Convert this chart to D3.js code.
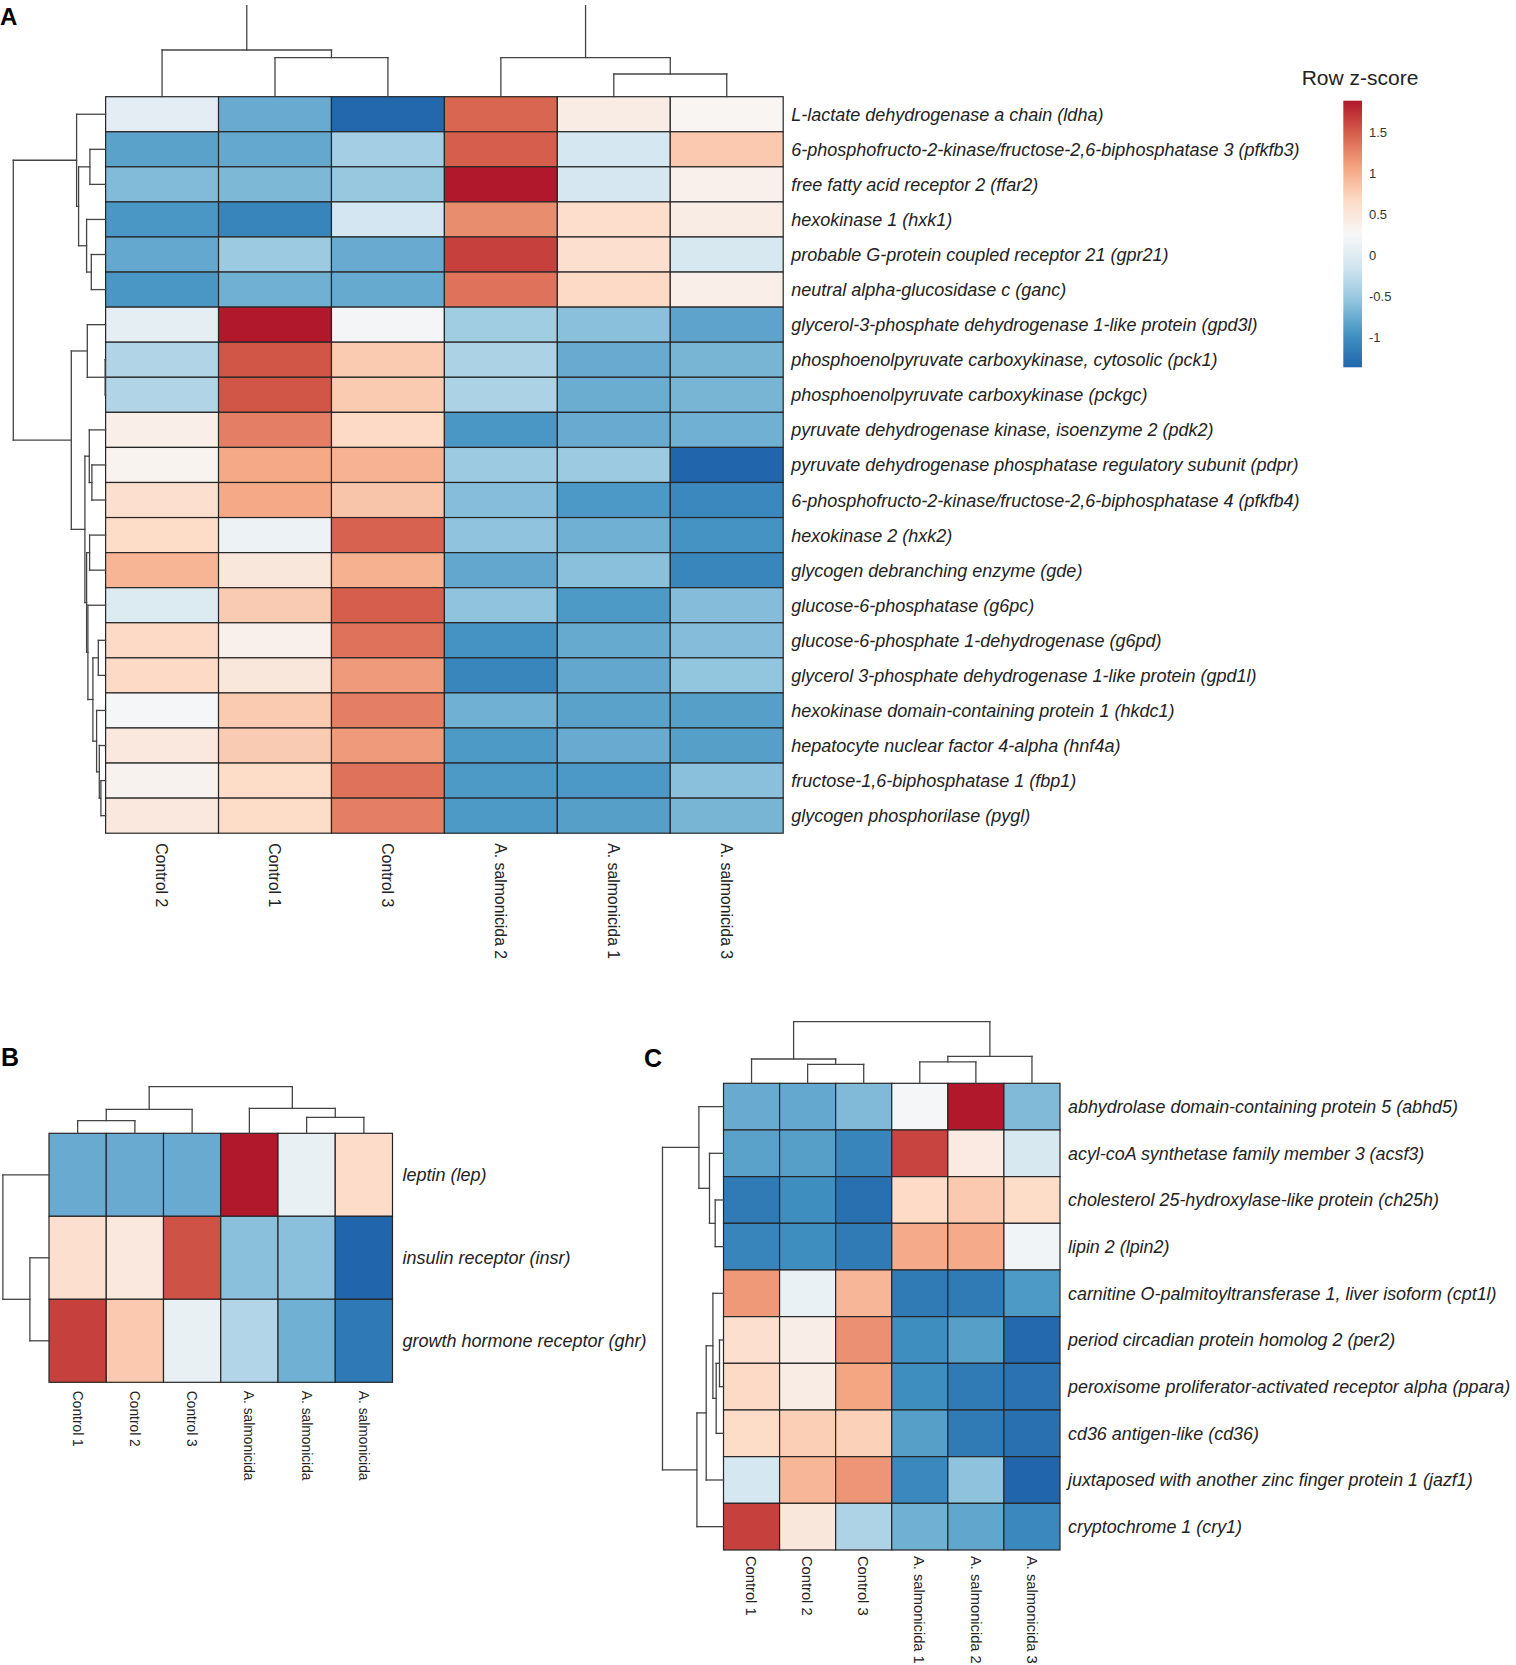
<!DOCTYPE html>
<html>
<head>
<meta charset="utf-8">
<title>Glucose metabolism heatmaps</title>
<script src="https://cdn.jsdelivr.net/npm/d3@7"></script>
<style>
  body { margin: 0; background: #fff; }
  svg { display: block; font-family: "Liberation Sans", Arial, sans-serif; }
  .row-label { font-style: italic; fill: #222; }
  .col-label { fill: #222; }
  .panel-letter { font-weight: bold; fill: #000; }
</style>
</head>
<body>
<svg id="figure" width="1516" height="1665"></svg>
<script>
// ============================================================================
// data
// ============================================================================

// panel A
const colsA = ["Control 2", "Control 1", "Control 3", "A. salmonicida 2", "A. salmonicida 1", "A. salmonicida 3"];
const rowsA = [
    "L-lactate dehydrogenase a chain (ldha)",
    "6-phosphofructo-2-kinase/fructose-2,6-biphosphatase 3 (pfkfb3)",
    "free fatty acid receptor 2 (ffar2)",
    "hexokinase 1 (hxk1)",
    "probable G-protein coupled receptor 21 (gpr21)",
    "neutral alpha-glucosidase c (ganc)",
    "glycerol-3-phosphate dehydrogenase 1-like protein (gpd3l)",
    "phosphoenolpyruvate carboxykinase, cytosolic (pck1)",
    "phosphoenolpyruvate carboxykinase (pckgc)",
    "pyruvate dehydrogenase kinase, isoenzyme 2 (pdk2)",
    "pyruvate dehydrogenase phosphatase regulatory subunit (pdpr)",
    "6-phosphofructo-2-kinase/fructose-2,6-biphosphatase 4 (pfkfb4)",
    "hexokinase 2 (hxk2)",
    "glycogen debranching enzyme (gde)",
    "glucose-6-phosphatase (g6pc)",
    "glucose-6-phosphate 1-dehydrogenase (g6pd)",
    "glycerol 3-phosphate dehydrogenase 1-like protein (gpd1l)",
    "hexokinase domain-containing protein 1 (hkdc1)",
    "hepatocyte nuclear factor 4-alpha (hnf4a)",
    "fructose-1,6-biphosphatase 1 (fbp1)",
    "glycogen phosphorilase (pygl)"
];
const valuesA = [
    [ 0.05, -0.76, -1.34,  1.45,  0.42,  0.30],
    [-0.83, -0.78, -0.43,  1.49, -0.10,  0.81],
    [-0.63, -0.65, -0.51,  1.89, -0.09,  0.37],
    [-0.92, -1.08, -0.11,  1.22,  0.64,  0.43],
    [-0.78, -0.48, -0.76,  1.66,  0.61, -0.08],
    [-0.92, -0.72, -0.77,  1.38,  0.68,  0.39],
    [ 0.06,  1.89,  0.23, -0.45, -0.59, -0.82],
    [-0.35,  1.54,  0.80, -0.38, -0.76, -0.68],
    [-0.35,  1.54,  0.80, -0.38, -0.75, -0.68],
    [ 0.39,  1.30,  0.68, -0.92, -0.76, -0.72],
    [ 0.33,  1.05,  0.98, -0.48, -0.48, -1.36],
    [ 0.61,  1.05,  0.84, -0.61, -0.91, -1.05],
    [ 0.66,  0.16,  1.47, -0.56, -0.72, -0.95],
    [ 0.96,  0.50,  0.99, -0.79, -0.59, -1.07],
    [-0.02,  0.79,  1.49, -0.56, -0.90, -0.62],
    [ 0.68,  0.37,  1.38, -0.95, -0.77, -0.62],
    [ 0.68,  0.50,  1.14, -1.07, -0.79, -0.55],
    [ 0.24,  0.80,  1.30, -0.72, -0.83, -0.86],
    [ 0.48,  0.79,  1.14, -0.90, -0.76, -0.86],
    [ 0.34,  0.66,  1.38, -0.90, -0.91, -0.59],
    [ 0.48,  0.66,  1.30, -0.90, -0.86, -0.68]
];
// trees: [merge height, left, right], leaves are row/column indices
const rowTreeA = [92.3,
    [29, 0, [27, [15.7, 1, 2], [19, 3, [14.3, 4, 5]]]],
    [34.3, [18.3, 6, [0.5, 7, 8]],
        [20.7, [16.3, 9, [13.7, 10, 11]],
            [19, [16, 12, 13], [17.7, 14, [12.7, [7.3, 15, 16], [9, 17, [6.3, 18, [4.7, 19, 20]]]]]]]]];
const colTreeA = [140, [46.7, 0, [39, 1, 2]], [39, 3, [22.7, 4, 5]]];

// panel B
const colsB = ["Control 1", "Control 2", "Control 3", "A. salmonicida", "A. salmonicida", "A. salmonicida"];
const rowsB = ["leptin (lep)", "insulin receptor (insr)", "growth hormone receptor (ghr)"];
const valuesB = [
    [-0.76, -0.76, -0.76,  1.89,  0.10,  0.65],
    [ 0.61,  0.48,  1.56, -0.59, -0.59, -1.36],
    [ 1.66,  0.81,  0.10, -0.34, -0.72, -1.19]
];
const rowTreeB = [46.1, 0, [19.1, 1, 2]];
const colTreeB = [46.6, [24, [12.6, 0, 1], 2], [25, 3, [16, 4, 5]]];

// panel C
const colsC = ["Control 1", "Control 2", "Control 3", "A. salmonicida 1", "A. salmonicida 2", "A. salmonicida 3"];
const rowsC = [
    "abhydrolase domain-containing protein 5 (abhd5)",
    "acyl-coA synthetase family member 3 (acsf3)",
    "cholesterol 25-hydroxylase-like protein (ch25h)",
    "lipin 2 (lpin2)",
    "carnitine O-palmitoyltransferase 1, liver isoform (cpt1l)",
    "period circadian protein homolog 2 (per2)",
    "peroxisome proliferator-activated receptor alpha (ppara)",
    "cd36 antigen-like (cd36)",
    "juxtaposed with another zinc finger protein 1 (jazf1)",
    "cryptochrome 1 (cry1)"
];
const valuesC = [
    [-0.76, -0.78, -0.64,  0.24,  1.89, -0.64],
    [-0.83, -0.86, -1.08,  1.64,  0.45, -0.07],
    [-1.18, -1.00, -1.27,  0.67,  0.81,  0.66],
    [-1.08, -1.00, -1.18,  1.03,  1.03,  0.20],
    [ 1.15,  0.12,  0.95, -1.18, -1.18, -0.90],
    [ 0.61,  0.40,  1.20, -1.00, -0.86, -1.33],
    [ 0.68,  0.43,  1.08, -1.00, -1.18, -1.25],
    [ 0.66,  0.77,  0.75, -0.86, -1.18, -1.27],
    [-0.10,  0.95,  1.17, -1.05, -0.57, -1.36],
    [ 1.66,  0.50, -0.37, -0.72, -0.80, -1.05]
];
const rowTreeC = [61,
    [24.6, 0, [14, 1, [8.3, 2, 3]]],
    [26.6, [17.3, [10.6, 4, [7.3, [4, 5, 6], 7]], 8], 9]];
const colTreeC = [61.6, [24.3, 0, [18.9, 1, 2]], [26.9, [21.4, 3, 4], 5]];

// colour key
const zRange = [-1.36, 1.89];
const legendTicks = [-1, -0.5, 0, 0.5, 1, 1.5];

// ============================================================================
// helpers
// ============================================================================

// rev(brewer.pal(9, "RdBu"))
const rdbu = ["#2166ac", "#4393c3", "#92c5de", "#d1e5f0", "#f7f7f7",
              "#fddbc7", "#f4a582", "#d6604d", "#b2182b"];

const color = d3.scaleLinear()
    .domain(rdbu.map((c, i) => zRange[0] + i * (zRange[1] - zRange[0]) / (rdbu.length - 1)))
    .range(rdbu)
    .interpolate(d3.interpolateRgb)
    .clamp(true);

const svg = d3.select("#figure");

// walk a nested [h, left, right] tree and return elbow segments
function dendroSegments(tree, leafPos) {
    const segs = [];
    (function walk(node) {
        if (typeof node === "number") return { pos: leafPos(node), h: 0 };
        const [h, a, b] = node;
        const l = walk(a), r = walk(b);
        segs.push({ p1: l.pos, p2: l.pos, h1: l.h, h2: h });
        segs.push({ p1: r.pos, p2: r.pos, h1: r.h, h2: h });
        segs.push({ p1: l.pos, p2: r.pos, h1: h, h2: h });
        return { pos: (l.pos + r.pos) / 2, h: h };
    })(tree);
    return segs;
}

function drawHeatmap(p) {
    const g = svg.append("g");

    const x = d3.scaleBand().domain(d3.range(p.cols.length)).range([p.left, p.right]);
    const y = d3.scaleBand().domain(d3.range(p.rows.length)).range([p.top, p.bottom]);

    // cells
    const cells = p.values.flatMap((row, i) => row.map((v, j) => ({ i, j, v })));
    g.append("g")
      .selectAll("rect")
      .data(cells)
      .join("rect")
        .attr("x", d => x(d.j))
        .attr("y", d => y(d.i))
        .attr("width", x.bandwidth())
        .attr("height", y.bandwidth())
        .attr("fill", d => color(d.v))
        .attr("stroke", "#262626")
        .attr("stroke-width", 1.2);

    // gene names
    g.append("g")
      .selectAll("text")
      .data(p.rows)
      .join("text")
        .attr("class", "row-label")
        .attr("x", p.right + p.rowGap)
        .attr("y", (d, i) => y(i) + y.bandwidth() / 2)
        .attr("dy", "0.36em")
        .style("font-size", p.rowFont + "px")
        .text(d => d);

    // sample names, rotated
    g.append("g")
      .selectAll("text")
      .data(p.cols)
      .join("text")
        .attr("class", "col-label")
        .attr("transform", (d, i) => `translate(${x(i) + x.bandwidth() / 2},${p.bottom + p.colGap}) rotate(90)`)
        .attr("dy", "0.36em")
        .style("font-size", p.colFont + "px")
        .text(d => d);

    // column dendrogram (1 height unit = 1 px)
    const hTop = d3.scaleLinear().domain([0, 100]).range([p.top, p.top - 100]);
    const colSegs = dendroSegments(p.colTree, i => x(i) + x.bandwidth() / 2);

    const colDendro = g.append("g")
        .attr("stroke", "#444")
        .attr("stroke-width", 1.3)
        .attr("stroke-linecap", "square");

    if (p.clipTop !== undefined) {
        const id = "clip-" + p.name;
        svg.append("clipPath").attr("id", id)
          .append("rect")
            .attr("x", 0).attr("y", p.clipTop)
            .attr("width", 1516).attr("height", p.top - p.clipTop + 2);
        colDendro.attr("clip-path", `url(#${id})`);
    }

    colDendro.selectAll("line")
      .data(colSegs)
      .join("line")
        .attr("x1", d => d.p1)
        .attr("x2", d => d.p2)
        .attr("y1", d => hTop(d.h1))
        .attr("y2", d => hTop(d.h2));

    // row dendrogram
    const hLeft = d3.scaleLinear().domain([0, 100]).range([p.left, p.left - 100]);
    const rowSegs = dendroSegments(p.rowTree, i => y(i) + y.bandwidth() / 2);

    g.append("g")
        .attr("stroke", "#444")
        .attr("stroke-width", 1.3)
        .attr("stroke-linecap", "square")
      .selectAll("line")
      .data(rowSegs)
      .join("line")
        .attr("y1", d => d.p1)
        .attr("y2", d => d.p2)
        .attr("x1", d => hLeft(d.h1))
        .attr("x2", d => hLeft(d.h2));
}

// ============================================================================
// panels
// ============================================================================

drawHeatmap({
    name: "A", rows: rowsA, cols: colsA, values: valuesA,
    rowTree: rowTreeA, colTree: colTreeA,
    left: 105.6, right: 783.2, top: 96.7, bottom: 833.2,
    rowGap: 8, rowFont: 18, colGap: 10, colFont: 15.8, clipTop: 5
});

drawHeatmap({
    name: "B", rows: rowsB, cols: colsB, values: valuesB,
    rowTree: rowTreeB, colTree: colTreeB,
    left: 49, right: 392.5, top: 1133.3, bottom: 1382.3,
    rowGap: 10, rowFont: 18, colGap: 8.5, colFont: 13.8
});

drawHeatmap({
    name: "C", rows: rowsC, cols: colsC, values: valuesC,
    rowTree: rowTreeC, colTree: colTreeC,
    left: 723.5, right: 1060, top: 1083.3, bottom: 1550,
    rowGap: 8, rowFont: 17.9, colGap: 6, colFont: 14.7
});

// panel letters
svg.append("text").attr("class", "panel-letter").attr("x", 0).attr("y", 25).style("font-size", "24px").text("A");
svg.append("text").attr("class", "panel-letter").attr("x", 1).attr("y", 1066).style("font-size", "25px").text("B");
svg.append("text").attr("class", "panel-letter").attr("x", 644).attr("y", 1066.5).style("font-size", "25px").text("C");

// ============================================================================
// colour key
// ============================================================================

const keyTop = 100.7, keyBottom = 367.3, keyLeft = 1343.3, keyWidth = 18.7;

const grad = svg.append("defs").append("linearGradient")
    .attr("id", "zgrad")
    .attr("x1", 0).attr("y1", 1).attr("x2", 0).attr("y2", 0);
grad.selectAll("stop")
  .data(rdbu)
  .join("stop")
    .attr("offset", (d, i) => i / (rdbu.length - 1))
    .attr("stop-color", d => d);

svg.append("rect")
    .attr("x", keyLeft)
    .attr("y", keyTop)
    .attr("width", keyWidth)
    .attr("height", keyBottom - keyTop)
    .attr("fill", "url(#zgrad)");

const keyScale = d3.scaleLinear().domain(zRange).range([keyBottom, keyTop]);

const keyAxis = svg.append("g")
    .attr("transform", `translate(${keyLeft + keyWidth},0)`)
    .call(d3.axisRight(keyScale)
        .tickValues(legendTicks)
        .tickSize(0)
        .tickPadding(7)
        .tickFormat(d => String(d)));
keyAxis.select(".domain").remove();
keyAxis.selectAll("text")
    .style("font-family", "'Liberation Sans', Arial, sans-serif")
    .style("font-size", "13px")
    .attr("fill", "#333");

svg.append("text")
    .attr("x", 1360)
    .attr("y", 85)
    .attr("text-anchor", "middle")
    .style("font-size", "21px")
    .attr("fill", "#222")
    .text("Row z-score");
</script>
</body>
</html>
